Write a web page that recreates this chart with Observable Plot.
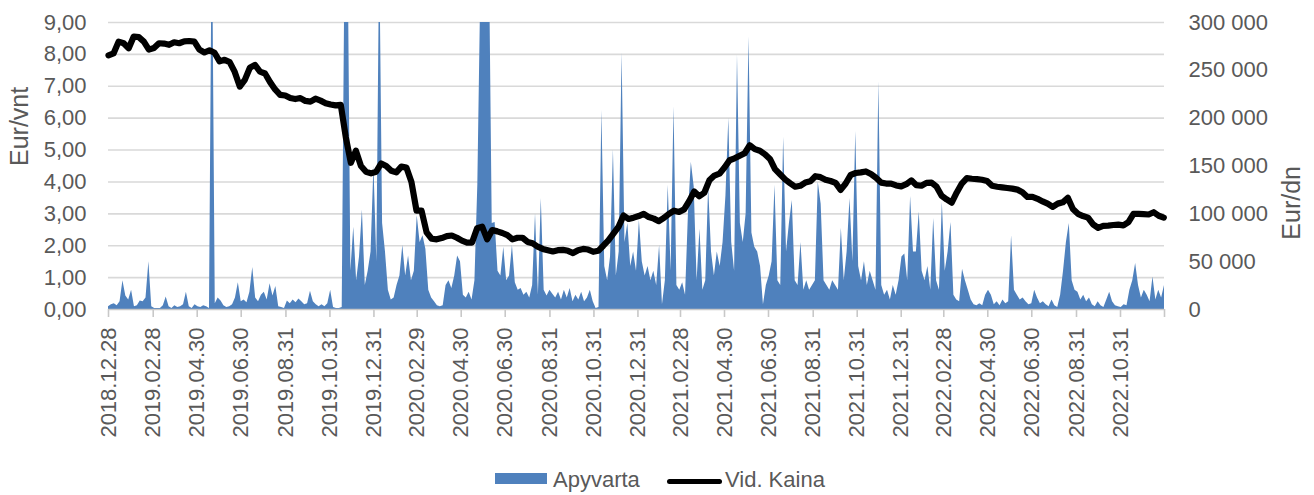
<!DOCTYPE html>
<html>
<head>
<meta charset="utf-8">
<script src="https://cdn.jsdelivr.net/npm/d3@7"></script>
<script src="https://cdn.jsdelivr.net/npm/@observablehq/plot@0.6"></script>
<style>
  body { margin: 0; background: #fff; font-family: "Liberation Sans", Arial, sans-serif; }
  #wrap { position: relative; width: 1314px; height: 495px; overflow: hidden; }
  .leg { position: absolute; font-size: 22px; line-height: 22px; color: #595959; white-space: nowrap; }
</style>
</head>
<body>
<div id="wrap">
  <div id="chart"></div>
  <div id="legend"></div>
</div>
<script>
// ---- data ----
const startDate = "2018-12-28";   // first trading day shown
const endDate = "2022-12-31";     // end of the date axis

// Vid. Kaina (Eur/vnt), one reading per week from startDate
const kaina = [
  7.97, 8.03, 8.40, 8.35, 8.19, 8.56, 8.54, 8.40, 8.15, 8.20,
  8.35, 8.34, 8.30, 8.38, 8.35, 8.41, 8.42, 8.40, 8.15, 8.06,
  8.13, 8.05, 7.78, 7.83, 7.76, 7.45, 6.99, 7.20, 7.58, 7.67,
  7.46, 7.40, 7.13, 6.90, 6.73, 6.71, 6.63, 6.60, 6.63, 6.54,
  6.52, 6.61, 6.55, 6.47, 6.43, 6.40, 6.42, 5.40, 4.60, 4.98,
  4.50, 4.32, 4.27, 4.32, 4.58, 4.50, 4.35, 4.30, 4.48, 4.45,
  4.00, 3.10, 3.10, 2.42, 2.22, 2.20, 2.24, 2.30, 2.32, 2.25,
  2.16, 2.10, 2.10, 2.55, 2.60, 2.20, 2.49, 2.45, 2.40, 2.33,
  2.20, 2.25, 2.25, 2.12, 2.08, 1.97, 1.90, 1.86, 1.82, 1.86,
  1.87, 1.84, 1.77, 1.86, 1.90, 1.88, 1.81, 1.84, 2.00, 2.17,
  2.38, 2.59, 2.95, 2.84, 2.88, 2.93, 3.00, 2.90, 2.85, 2.77,
  2.87, 3.00, 3.10, 3.06, 3.14, 3.40, 3.70, 3.55, 3.66, 4.05,
  4.20, 4.26, 4.45, 4.68, 4.74, 4.82, 4.90, 5.15, 5.03, 4.98,
  4.87, 4.72, 4.40, 4.24, 4.08, 3.96, 3.85, 3.88, 3.98, 4.02,
  4.18, 4.15, 4.07, 4.03, 3.97, 3.75, 3.95, 4.22, 4.28, 4.30,
  4.33, 4.25, 4.13, 3.98, 3.95, 3.95, 3.89, 3.86, 3.93, 4.05,
  3.90, 3.88, 3.97, 3.98, 3.85, 3.57, 3.45, 3.35, 3.67, 3.95,
  4.12, 4.10, 4.09, 4.07, 4.03, 3.88, 3.85, 3.83, 3.81, 3.79,
  3.76, 3.68, 3.53, 3.53, 3.47, 3.39, 3.32, 3.22, 3.32, 3.36,
  3.50, 3.15, 3.00, 2.93, 2.88, 2.67, 2.56, 2.62, 2.63, 2.65,
  2.66, 2.64, 2.74, 3.00, 3.00, 2.99, 2.98, 3.05, 2.94, 2.88
];

// Apyvarta (thousand Eur/dn), one reading every 4 days from startDate
const apyvartaTukst = [
  3, 5, 6, 4, 8, 30, 14, 10, 20, 3,
  4, 9, 8, 12, 50, 3, 1, 1, 1, 4,
  13, 3, 1, 4, 2, 3, 5, 18, 3, 1,
  5, 3, 2, 4, 3, 1, 420, 6, 12, 9,
  4, 2, 3, 5, 12, 28, 8, 10, 7, 18,
  44, 12, 8, 15, 18, 10, 27, 14, 24, 3,
  2, 1, 9, 6, 10, 7, 11, 8, 5, 6,
  19, 8, 5, 3, 5, 3, 6, 20, 2, 1,
  1, 2, 380, 400, 40, 86, 30, 55, 104, 25,
  40, 60, 150, 50, 380, 90, 60, 20, 10, 12,
  25, 35, 67, 35, 56, 30, 40, 98, 70, 77,
  63, 20, 12, 8, 4, 3, 4, 25, 30, 22,
  35, 56, 50, 15, 12, 18, 10, 30, 130, 330,
  420, 420, 380, 90, 91, 40, 35, 65, 30, 35,
  67, 28, 20, 22, 15, 18, 12, 25, 100, 15,
  116, 20, 14, 20, 16, 12, 18, 10, 20, 12,
  22, 8, 15, 10, 18, 8, 12, 20, 8, 1,
  2, 208, 45, 30, 55, 167, 35, 60, 268, 70,
  90, 45, 60, 40, 93, 50, 35, 45, 30, 40,
  25, 67, 5, 30, 130, 40, 212, 25, 20, 28,
  15, 100, 154, 128, 30, 84, 20, 30, 128, 60,
  35, 60, 45, 70, 119, 200, 70, 40, 266, 90,
  70, 100, 285, 80, 65, 60, 45, 5, 25, 35,
  50, 130, 30, 25, 180, 60, 90, 114, 30, 25,
  70, 20, 30, 20, 25, 30, 133, 110, 30, 25,
  20, 30, 25, 20, 85, 30, 60, 116, 50, 186,
  45, 30, 50, 25, 40, 30, 20, 238, 25, 15,
  20, 10, 25, 15, 30, 55, 58, 30, 118, 60,
  60, 102, 40, 30, 45, 20, 95, 30, 20, 112,
  40, 60, 91, 15, 10, 8, 42, 30, 20, 10,
  5, 4, 6, 4, 15, 20, 15, 5, 8, 4,
  10, 6, 8, 77, 20, 15, 10, 12, 8, 5,
  6, 20, 12, 6, 8, 5, 3, 10, 4, 2,
  15, 40, 70, 90, 30, 20, 18, 10, 15, 8,
  12, 5, 3, 8, 4, 2, 10, 18, 8, 4,
  3, 2, 5, 4, 20, 30, 48, 25, 12, 20,
  15, 8, 34, 10, 20, 12, 25
];

// x-axis tick labels
const xTickLabels = [
  "2018.12.28", "2019.02.28", "2019.04.30", "2019.06.30", "2019.08.31", "2019.10.31",
  "2019.12.31", "2020.02.29", "2020.04.30", "2020.06.30", "2020.08.31", "2020.10.31",
  "2020.12.31", "2021.02.28", "2021.04.30", "2021.06.30", "2021.08.31", "2021.10.31",
  "2021.12.31", "2022.02.28", "2022.04.30", "2022.06.30", "2022.08.31", "2022.10.31"
];
const leftTicks = [0, 1, 2, 3, 4, 5, 6, 7, 8, 9];
const rightTicks = [0, 50000, 100000, 150000, 200000, 250000, 300000];
const leftMax = 9, rightMax = 300000;

// ---- build tables ----
const parseISO = d3.utcParse("%Y-%m-%d");
const parseDot = d3.utcParse("%Y.%m.%d");
const t0 = parseISO(startDate), t1 = parseISO(endDate);
const priceRows = kaina.map((v, i) => ({date: d3.utcDay.offset(t0, 7 * i), v}));
const turnRows = apyvartaTukst.map((v, i) => ({date: d3.utcDay.offset(t0, 4 * i), t: v * 1000}));
const tickDates = xTickLabels.map(s => parseDot(s));
const labelByTime = new Map(tickDates.map((d, i) => [+d, xTickLabels[i]]));
const allXTicks = [...tickDates, t1];

const toLeft = t => t / rightMax * leftMax;
const fmtRight = d3.format(",");

const BLUE = "#4F81BD";
const GREY = "#595959";

const chart = Plot.plot({
  width: 1314,
  height: 465,
  marginLeft: 108,
  marginRight: 150,
  marginTop: 22,
  marginBottom: 156,
  style: {fontFamily: "'Liberation Sans', Arial, sans-serif", fontSize: "22px", color: GREY, background: "#fff", overflow: "visible"},
  x: {type: "utc", domain: [t0, t1]},
  y: {domain: [0, leftMax]},
  marks: [
    Plot.gridY(leftTicks.filter(d => d > 0), {stroke: "#d9d9d9", strokeOpacity: 1, strokeWidth: 1.6}),
    Plot.areaY(turnRows, {x: "date", y: d => toLeft(d.t), fill: BLUE, clip: true}),
    Plot.ruleY([0], {stroke: "#c8c8c8", strokeWidth: 1.6}),
    Plot.lineY(priceRows, {x: "date", y: "v", stroke: "#000", strokeWidth: 6.2, strokeLinejoin: "round", strokeLinecap: "round"}),
    Plot.axisY(leftTicks, {anchor: "left", tickSize: 0, tickPadding: 22, label: null, fill: GREY,
      tickFormat: d => d.toFixed(2).replace(".", ",")}),
    Plot.axisY(rightTicks.map(toLeft), {anchor: "right", tickSize: 0, tickPadding: 24, label: null, fill: GREY,
      tickFormat: d => fmtRight(Math.round(d / leftMax * rightMax)).replace(/,/g, " ")}),
    Plot.axisX(allXTicks, {anchor: "bottom", tickSize: 8, tickPadding: 10, tickRotate: -90, label: null,
      stroke: "#c8c8c8", strokeWidth: 1.6, fill: GREY,
      tickFormat: d => labelByTime.get(+d) ?? ""}),
    Plot.text(["Eur/vnt"], {frameAnchor: "left", dx: -89, rotate: -90, fontSize: 25, fill: GREY}),
    Plot.text(["Eur/dn"], {frameAnchor: "right", dx: 127, rotate: -90, fontSize: 25, fill: GREY})
  ]
});
document.getElementById("chart").appendChild(chart);

// ---- legend (below the chart) ----
const legend = document.getElementById("legend");
legend.innerHTML = `
  <div style="position:absolute;left:495px;top:473px;width:52px;height:11px;background:${BLUE}"></div>
  <div class="leg" style="left:553px;top:469px">Apyvarta</div>
  <div style="position:absolute;left:667px;top:479px;width:55px;height:5px;background:#000;border-radius:3px"></div>
  <div class="leg" style="left:725px;top:469px">Vid. Kaina</div>`;
</script>
</body>
</html>
